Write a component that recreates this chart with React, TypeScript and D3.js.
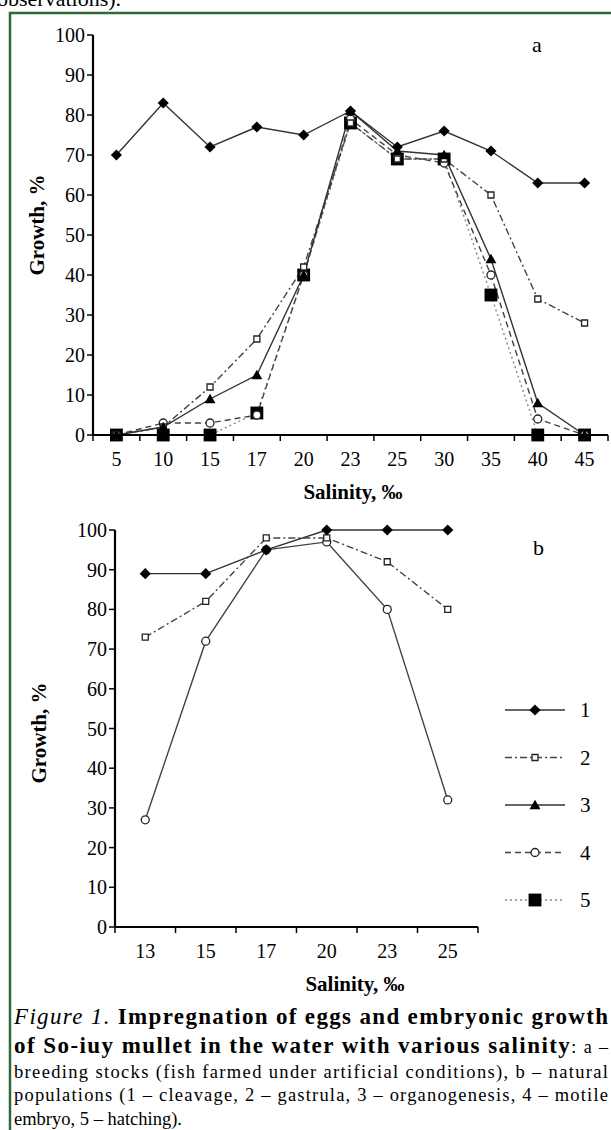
import React from 'react';
import * as d3 from 'd3';

// panel a: breeding stocks
const catsA = ['5', '10', '15', '17', '20', '23', '25', '30', '35', '40', '45'];
const a1 = [70, 83, 72, 77, 75, 81, 72, 76, 71, 63, 63];
const a2 = [0, 2, 12, 24, 42, 78, 69, 69, 60, 34, 28];
const a3 = [0, 2, 9, 15, 40, 81, 71, 70, 44, 8, 0];
const a4 = [0, 3, 3, 5, 40, 79, 70, 68, 40, 4, 0];
const a5 = [0, 0, 0, 5.5, 40, 78, 69, 69, 35, 0, 0];

// panel b: natural populations
const catsB = ['13', '15', '17', '20', '23', '25'];
const b1 = [89, 89, 95, 100, 100, 100];
const b2 = [73, 82, 98, 98, 92, 80];
const b4 = [27, 72, 95, 97, 80, 32];

const yTicks = [0, 10, 20, 30, 40, 50, 60, 70, 80, 90, 100];
const legendLabels = ['1', '2', '3', '4', '5'];

const serif = '"Liberation Serif", "Times New Roman", serif';

const styles: any = {
  1: { dash: null, stroke: '#333', marker: 'diamond' },
  2: { dash: '7,3,2,3', stroke: '#444', marker: 'osquare' },
  3: { dash: null, stroke: '#333', marker: 'triangle' },
  4: { dash: '6,4', stroke: '#444', marker: 'ocircle' },
  5: { dash: '2,3', stroke: '#888', marker: 'fsquare' },
};

function Marker({ kind, x, y }: { kind: string; x: number; y: number }) {
  if (kind === 'diamond') {
    const p = d3.symbol(d3.symbolSquare, 62)();
    return <path d={p || ''} transform={`translate(${x},${y}) rotate(45)`} fill="#000" />;
  }
  if (kind === 'osquare') {
    const p = d3.symbol(d3.symbolSquare, 36)();
    return <path d={p || ''} transform={`translate(${x},${y})`} fill="#fff" stroke="#222" strokeWidth={1.3} />;
  }
  if (kind === 'triangle') {
    const p = d3.symbol(d3.symbolTriangle, 52)();
    return <path d={p || ''} transform={`translate(${x},${y + 1})`} fill="#000" />;
  }
  if (kind === 'ocircle') {
    const p = d3.symbol(d3.symbolCircle, 50)();
    return <path d={p || ''} transform={`translate(${x},${y})`} fill="#fff" stroke="#222" strokeWidth={1.3} />;
  }
  const p = d3.symbol(d3.symbolSquare, 165)();
  return <path d={p || ''} transform={`translate(${x},${y})`} fill="#000" />;
}

function Panel({ cats, series, x0, x1, y0, y1, labelX, labelY, tickFont }: any) {
  const x = d3.scaleBand().domain(cats).range([x0, x1]);
  const y = d3.scaleLinear().domain([0, 100]).range([y0, y1]);
  const cx = (c: string) => (x(c) as number) + x.bandwidth() / 2;
  const line = d3.line<number>().x((_, i) => cx(cats[i])).y((d) => y(d));
  return (
    <g>
      {series.map((s: any) => (
        <path key={'l' + s.id} d={line(s.values) || ''} fill="none"
          stroke={styles[s.id].stroke} strokeWidth={1.4}
          strokeDasharray={s.solid ? undefined : styles[s.id].dash || undefined} />
      ))}
      {series.map((s: any) =>
        s.values.map((v: number, i: number) => (
          <Marker key={'m' + s.id + '-' + i} kind={styles[s.id].marker} x={cx(cats[i])} y={y(v)} />
        ))
      )}
      {/* y axis */}
      <line x1={x0} x2={x0} y1={y(0)} y2={y(100)} stroke="#000" strokeWidth={2.2} />
      {yTicks.map((t) => (
        <g key={'yt' + t}>
          <line x1={x0 - 6} x2={x0} y1={y(t)} y2={y(t)} stroke="#000" strokeWidth={1.5} />
          <text x={x0 - 8} y={y(t) + 7} textAnchor="end" fontFamily={serif} fontSize={tickFont}>{t}</text>
        </g>
      ))}
      {/* x axis */}
      <line x1={x0} x2={x1} y1={y(0)} y2={y(0)} stroke="#000" strokeWidth={2.2} />
      {[...cats.map((c: string) => x(c) as number), x1].map((t: number, i: number) => (
        <line key={'xt' + i} x1={t} x2={t} y1={y(0)} y2={y(0) + 6} stroke="#000" strokeWidth={1.5} />
      ))}
      {cats.map((c: string) => (
        <text key={'xl' + c} x={cx(c)} y={y(0) + 31} textAnchor="middle" fontFamily={serif} fontSize={tickFont}>{c}</text>
      ))}
      <text x={labelX} y={y(0) + 64} textAnchor="middle" fontFamily={serif} fontSize={21} fontWeight="bold">Salinity, ‰</text>
      <text transform={`translate(${labelY[0]},${labelY[1]}) rotate(-90)`} textAnchor="middle"
        fontFamily={serif} fontSize={21} fontWeight="bold">Growth, %</text>
    </g>
  );
}

export default function App() {
  const seriesA = [
    { id: 5, values: a5 },
    { id: 4, values: a4 },
    { id: 2, values: a2 },
    { id: 3, values: a3 },
    { id: 1, values: a1 },
  ];
  // in panel b the motile-embryo line is drawn solid
  const seriesB = [
    { id: 4, values: b4, solid: true },
    { id: 2, values: b2 },
    { id: 1, values: b1 },
  ];
  const legendY = d3.scalePoint().domain(legendLabels).range([710, 900]);
  return (
    <svg width={611} height={1130} style={{ position: 'absolute', left: 0, top: 0, background: '#fff' }}>
      <text x={-3} y={6} fontFamily={serif} fontSize={22}>observations).</text>
      <rect x={10} y={13} width={640} height={1200} fill="#fff" stroke="#2d6a37" strokeWidth={2.5} />

      <Panel cats={catsA} series={seriesA} x0={93} x1={608} y0={435} y1={35}
        labelX={353} labelY={[44, 225]} tickFont={20} />
      <text x={532} y={52} fontFamily={serif} fontSize={22}>a</text>

      <Panel cats={catsB} series={seriesB} x0={115} x1={478} y0={927} y1={530}
        labelX={355} labelY={[46, 733]} tickFont={20} />
      <text x={533} y={555} fontFamily={serif} fontSize={22}>b</text>

      {legendLabels.map((l) => {
        const ly = legendY(l) as number;
        const st = styles[+l];
        return (
          <g key={'lg' + l}>
            <line x1={505} x2={565} y1={ly} y2={ly} stroke={st.stroke} strokeWidth={1.6}
              strokeDasharray={st.dash || undefined} />
            <Marker kind={st.marker} x={535} y={ly} />
            <text x={580} y={ly + 7} fontFamily={serif} fontSize={21}>{l}</text>
          </g>
        );
      })}

      <g fontFamily={serif}>
        <text x={14} y={1024} fontSize={23} textLength={594} lengthAdjust="spacing">
          <tspan fontStyle="italic">Figure 1.</tspan>
          <tspan fontWeight="bold"> Impregnation of eggs and embryonic growth</tspan>
        </text>
        <text x={14} y={1053} fontSize={23} textLength={594} lengthAdjust="spacing">
          <tspan fontWeight="bold">of So-iuy mullet in the water with various salinity</tspan>
          <tspan fontSize={18}>: a –</tspan>
        </text>
        <text x={14} y={1078} fontSize={18.5} textLength={594} lengthAdjust="spacing">breeding stocks (fish farmed under artificial conditions), b – natural</text>
        <text x={14} y={1101} fontSize={18.5} textLength={594} lengthAdjust="spacing">populations (1 – cleavage, 2 – gastrula, 3 – organogenesis, 4 – motile</text>
        <text x={14} y={1125} fontSize={18.5}>embryo, 5 – hatching).</text>
      </g>
    </svg>
  );
}
